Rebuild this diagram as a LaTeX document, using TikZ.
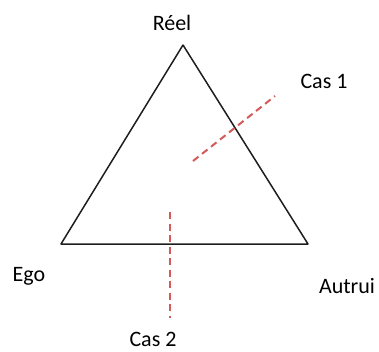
\documentclass[tikz,border=0pt]{standalone}
\usepackage{fontspec}
\setmainfont{Carlito}
\definecolor{dashred}{RGB}{212,90,90}
\definecolor{edge}{RGB}{30,30,30}
\begin{document}
\begin{tikzpicture}[x=1pt,y=-1pt,
  lbl/.style={font=\fontsize{22}{25}\selectfont, text=black, inner sep=0pt},
  side/.style={draw=edge, line width=1.5pt, line join=round},
  cut/.style={draw=dashred, line width=2pt, dash pattern=on 7pt off 4.5pt}]
\useasboundingbox (0,0) rectangle (379,351);
\coordinate (R) at (183,45);
\coordinate (E) at (61,244);
\coordinate (A) at (308,244);
\draw[side] (R) -- (E) -- (A) -- cycle;
\coordinate (c1a) at (193,161);
\coordinate (c1b) at (275,96);
\draw[cut] (c1a) -- (c1b);
\coordinate (c2a) at (170,212);
\coordinate (c2b) at (170,318);
\draw[cut] (c2a) -- (c2b);
\node[lbl] (reel) at (172,23) {Réel};
\node[lbl] (cas1) at (324,81) {Cas 1};
\node[lbl] (ego) at (29,276) {Ego};
\node[lbl] (autrui) at (347,286) {Autrui};
\node[lbl] (cas2) at (153,339) {Cas 2};
\end{tikzpicture}
\end{document}
